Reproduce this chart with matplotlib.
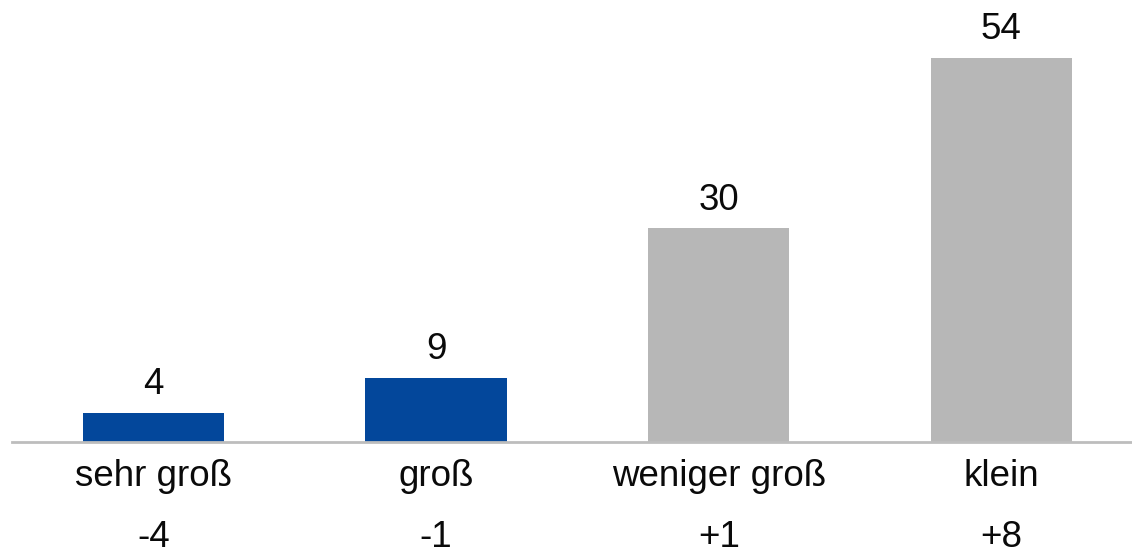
import matplotlib
matplotlib.use("Agg")
import matplotlib.pyplot as plt

categories = ["sehr groß", "groß", "weniger groß", "klein"]
values = [4, 9, 30, 54]
changes = ["-4", "-1", "+1", "+8"]
bar_colors = ["#03479B", "#03479B", "#B7B7B7", "#B7B7B7"]

plt.rcParams['font.family'] = ['Liberation Sans', 'DejaVu Sans']

fig = plt.figure(figsize=(11.32, 5.52), dpi=100)
W, H = 1132, 552
base_y = 441.5
left_px = 12
ax = fig.add_axes([left_px / W, (H - base_y) / H, (W - left_px) / W, base_y / H])

x = list(range(len(categories)))
ax.bar(x, values, width=0.5, color=bar_colors, zorder=2)

ax.set_xlim(-0.5, -0.5 + (W - left_px) / 282.7)
ax.set_ylim(0, base_y / 7.1)

for s in ["top", "right", "left"]:
    ax.spines[s].set_visible(False)
ax.spines["bottom"].set_color("#BDBDBD")
ax.spines["bottom"].set_linewidth(2.0)
ax.spines["bottom"].set_zorder(3)
ax.set_xticks([])
ax.set_yticks([])
ax.patch.set_alpha(0)

fs = 26.5
tc = "#0A0A0A"
for xi, v in zip(x, values):
    ax.annotate(str(v), xy=(xi, v), xytext=(0, 19 * 0.72), textcoords="offset points",
                ha="center", va="baseline", fontsize=fs, color=tc, annotation_clip=False)

for xi, c, d in zip(x, categories, changes):
    ax.annotate(c, xy=(xi, 0), xytext=(0, -44 * 0.72), textcoords="offset points",
                ha="center", va="baseline", fontsize=fs, color=tc, annotation_clip=False)
    ax.annotate(d, xy=(xi, 0), xytext=(0, -105.5 * 0.72), textcoords="offset points",
                ha="center", va="baseline", fontsize=fs, color=tc, annotation_clip=False)

fig.savefig("out.png", dpi=100)
